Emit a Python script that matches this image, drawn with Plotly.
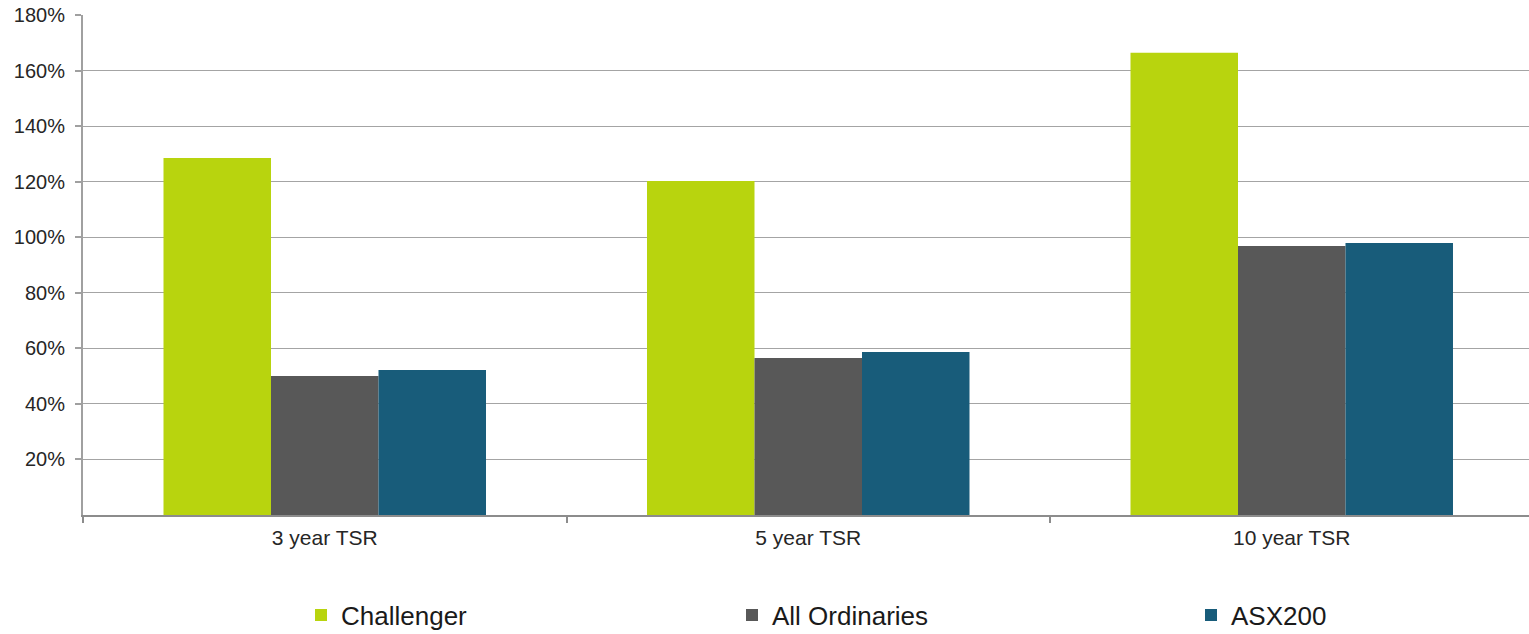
import plotly.graph_objects as go

categories = ["3 year TSR", "5 year TSR", "10 year TSR"]
challenger = [128.5, 120.2, 166.4]
all_ordinaries = [50.0, 56.5, 96.8]
asx200 = [52.2, 58.7, 97.9]
y_ticks = [20, 40, 60, 80, 100, 120, 140, 160, 180]
y_tick_labels = [f"{v}%" for v in y_ticks]

series = [
    ("Challenger", challenger, "#b8d40e", "legend4"),
    ("All Ordinaries", all_ordinaries, "#585858", "legend2"),
    ("ASX200", asx200, "#185c7a", "legend3"),
]

fig = go.Figure()
for name, vals, color, leg in series:
    fig.add_trace(go.Bar(
        x=categories, y=vals, name=name, legend=leg, showlegend=True,
        marker=dict(color=color, line=dict(width=0)),
    ))

font_family = "Liberation Sans, Arial, sans-serif"
leg_common = dict(orientation="h", xref="container", yref="container",
                  yanchor="middle", y=(634 - 615) / 634,
                  font=dict(size=26, color="#1a1a1a", family=font_family),
                  bgcolor="rgba(0,0,0,0)", itemwidth=30)

fig.update_layout(
    width=1529, height=634,
    margin=dict(l=83, r=0, t=15, b=119),
    paper_bgcolor="white", plot_bgcolor="white",
    barmode="group", bargap=0.333, bargroupgap=0,
    font=dict(family=font_family, color="#262626"),
    showlegend=True,
    legend4=dict(x=301 / 1529, **leg_common),
    legend2=dict(x=732 / 1529, **leg_common),
    legend3=dict(x=1191 / 1529, **leg_common),
    xaxis=dict(
        range=[-0.5, 2.4907],
        showline=True, linecolor="#8c8c8c", linewidth=2,
        ticks="outside", tickson="boundaries", ticklen=6, tickcolor="#8c8c8c",
        tickwidth=1.5,
        tickfont=dict(size=21, color="#262626"),
        ticklabelstandoff=3,
        showgrid=False,
    ),
    yaxis=dict(
        range=[0, 180],
        tickvals=y_ticks, ticktext=y_tick_labels,
        showline=True, linecolor="#a0a0a0", linewidth=2,
        ticks="outside", ticklen=6, tickcolor="#a0a0a0", tickwidth=1.5,
        tickfont=dict(size=20, color="#262626"),
        ticklabelstandoff=6,
        showgrid=True, gridcolor="#a4a4a4", gridwidth=1.2,
        zeroline=False,
    ),
)

fig.write_html("out.html")
